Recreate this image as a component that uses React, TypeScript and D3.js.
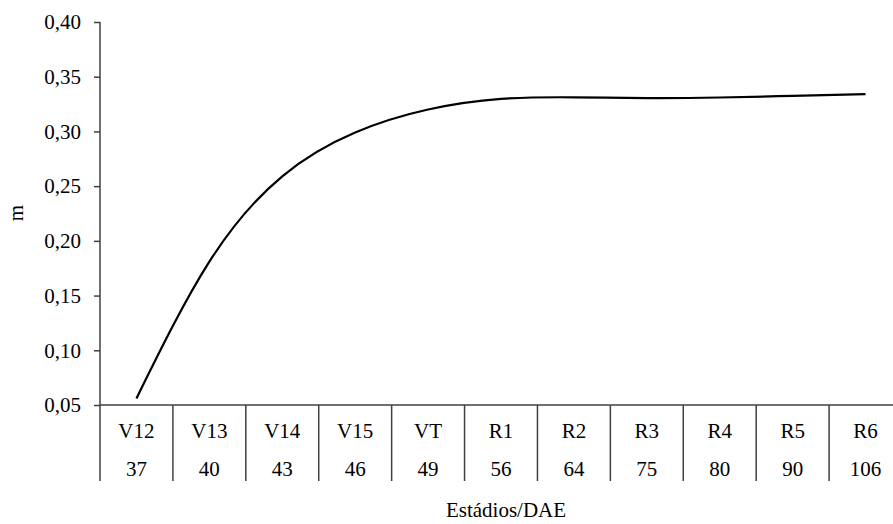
import { useRef, useEffect } from 'react';
import * as d3 from 'd3';

const stages = ["V12", "V13", "V14", "V15", "VT", "R1", "R2", "R3", "R4", "R5", "R6"];
const dae = ["37", "40", "43", "46", "49", "56", "64", "75", "80", "90", "106"];
const mValues = [0.056, 0.181, 0.259, 0.299, 0.320, 0.3297, 0.3312, 0.3305, 0.3310, 0.3325, 0.3340];
const yTicks = [0.05, 0.10, 0.15, 0.20, 0.25, 0.30, 0.35, 0.40];

const W = 893;
const H = 524;
const left = 100;
const plotTop = 22;
const plotBottom = 405;
const axisColor = "#404040";
const font = "'Liberation Serif', 'Times New Roman', serif";
const fontSize = "21px";

const App = () => {
    const ref = useRef<SVGSVGElement>(null);

    useEffect(() => {
        if (!ref.current) return;
        const svg = d3.select(ref.current);
        svg.selectAll("*").remove();

        const x = d3.scaleBand().domain(stages).range([left, 902]).padding(0);
        const y = d3.scaleLinear().domain([0.05, 0.40]).range([plotBottom, plotTop]);
        const fmt = (v: number) => v.toFixed(2).replace(".", ",");

        // y axis
        const yAxis = d3.axisLeft(y).tickValues(yTicks).tickSize(6).tickPadding(13).tickFormat(d => fmt(+d));
        const yg = svg.append("g")
            .attr("transform", `translate(${left}, 0)`)
            .call(yAxis);
        yg.select(".domain").remove();
        yg.selectAll("line").attr("stroke", axisColor).attr("stroke-width", 1.5);
        yg.selectAll("text")
            .attr("fill", "#000")
            .style("font-family", font)
            .style("font-size", fontSize);

        // y axis line extended down through the category table
        svg.append("line")
            .attr("x1", left).attr("x2", left)
            .attr("y1", plotTop).attr("y2", 481)
            .attr("stroke", axisColor).attr("stroke-width", 1.5);

        // x axis line
        svg.append("line")
            .attr("x1", left).attr("x2", 902)
            .attr("y1", plotBottom).attr("y2", plotBottom)
            .attr("stroke", axisColor).attr("stroke-width", 1.5);

        // separators between categories
        svg.append("g").selectAll("line")
            .data(stages.slice(1))
            .enter()
            .append("line")
            .attr("x1", d => x(d)!)
            .attr("x2", d => x(d)!)
            .attr("y1", plotBottom)
            .attr("y2", 481)
            .attr("stroke", axisColor)
            .attr("stroke-width", 1.5);

        const labels = svg.append("g")
            .style("font-family", font)
            .style("font-size", fontSize)
            .attr("text-anchor", "middle");

        labels.selectAll(".stage")
            .data(stages)
            .enter()
            .append("text")
            .attr("class", "stage")
            .attr("x", d => x(d)! + x.bandwidth() / 2)
            .attr("y", 438)
            .text(d => d);

        labels.selectAll(".dae")
            .data(dae)
            .enter()
            .append("text")
            .attr("class", "dae")
            .attr("x", (d, i) => x(stages[i])! + x.bandwidth() / 2)
            .attr("y", 476)
            .text(d => d);

        // curve
        const line = d3.line<number>()
            .x((d, i) => x(stages[i])! + x.bandwidth() / 2)
            .y(d => y(d))
            .curve(d3.curveNatural);

        svg.append("path")
            .datum(mValues)
            .attr("d", line)
            .attr("fill", "none")
            .attr("stroke", "#000")
            .attr("stroke-width", 2.2);

        // axis titles
        svg.append("text")
            .attr("transform", `translate(23, 213) rotate(-90)`)
            .attr("text-anchor", "middle")
            .style("font-family", font)
            .style("font-size", fontSize)
            .text("m");

        svg.append("text")
            .attr("x", 506)
            .attr("y", 517)
            .attr("text-anchor", "middle")
            .style("font-family", font)
            .style("font-size", fontSize)
            .text("Estádios/DAE");
    }, []);

    return (
        <svg
            ref={ref}
            width={W}
            height={H}
            style={{ position: "absolute", left: 0, top: 0, background: "#fff" }}
        ></svg>
    );
};

export default App;
